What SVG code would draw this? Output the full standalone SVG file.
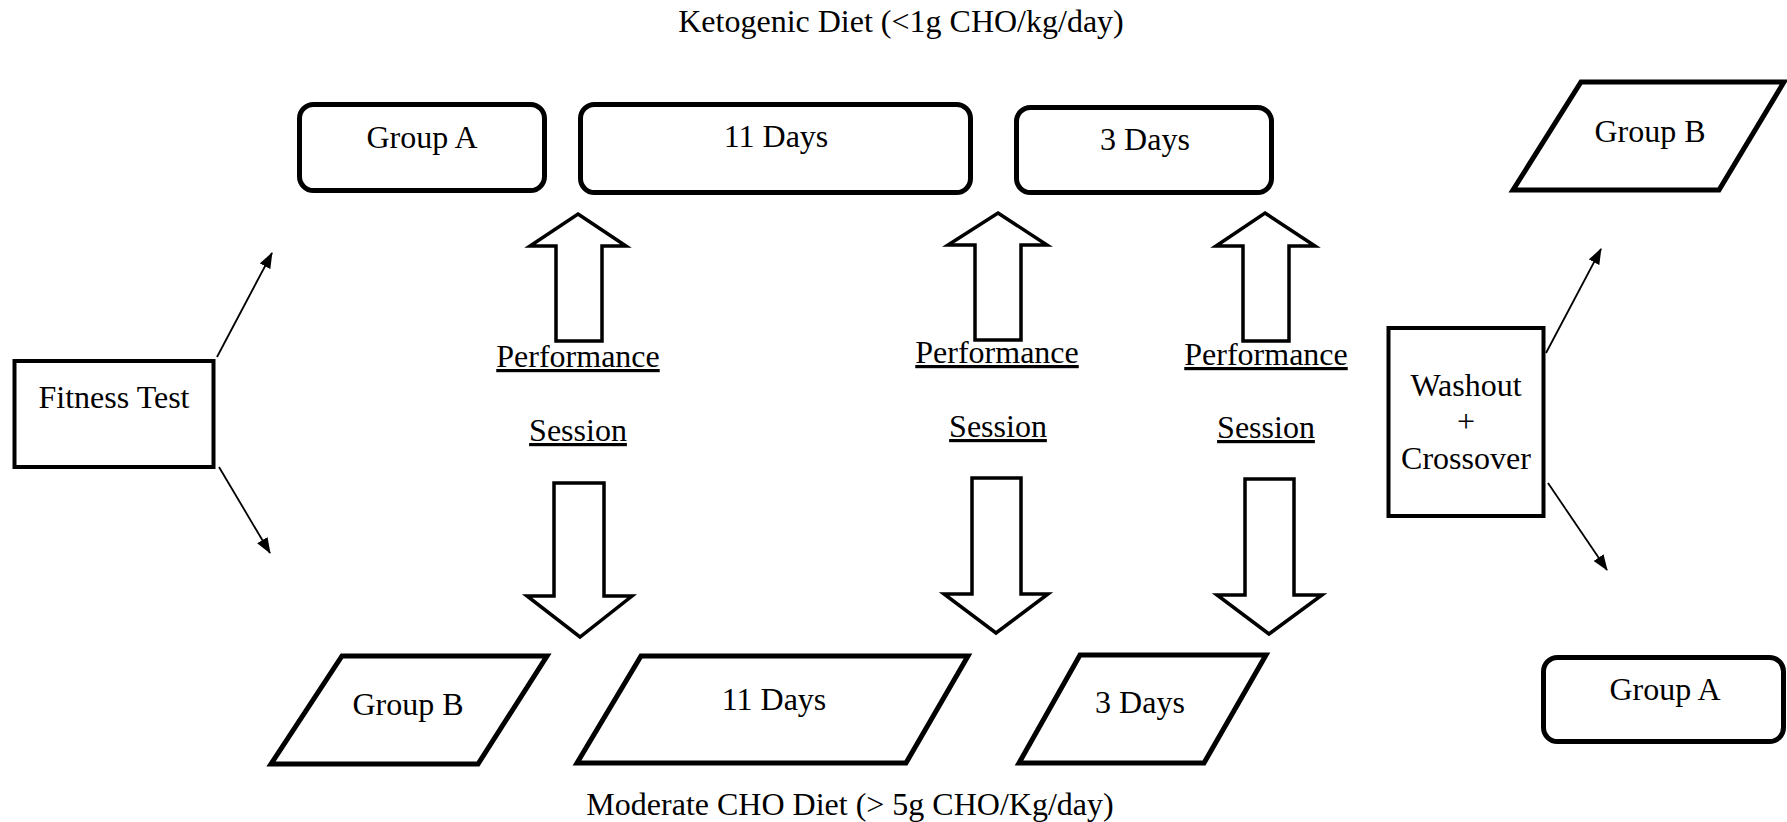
<svg xmlns="http://www.w3.org/2000/svg" width="1787" height="822" viewBox="0 0 1787 822">
  <style>
    text { font-family: "Liberation Serif", "Times New Roman", serif; font-size: 32px; fill: #000; text-anchor: middle; }
    .u { text-decoration: underline; }
    .rbox { fill: #fff; stroke: #000; stroke-width: 5; }
    .para { fill: #fff; stroke: #000; stroke-width: 5; stroke-linejoin: miter; }
    .box { fill: #fff; stroke: #000; stroke-width: 4; }
    .block { fill: #fff; stroke: #000; stroke-width: 3.5; stroke-linejoin: miter; }
    .link { stroke: #000; stroke-width: 1.8; fill: none; marker-end: url(#head); }
  </style>
  <defs>
    <marker id="head" markerUnits="userSpaceOnUse" markerWidth="16" markerHeight="12" refX="15" refY="6" orient="auto">
      <path d="M0,0 L16,6 L0,12 z" fill="#000"/>
    </marker>
  </defs>
  <rect width="1787" height="822" fill="#fff"/>

  <!-- diet headings -->
  <text id="title-keto" x="901" y="32">Ketogenic Diet (&lt;1g CHO/kg/day)</text>
  <text id="title-cho" x="850" y="815">Moderate CHO Diet (&gt; 5g CHO/Kg/day)</text>

  <!-- ketogenic arm (top row) -->
  <g id="keto-group-a">
    <rect class="rbox" x="299.5" y="104.5" width="245" height="86" rx="14"/>
    <text x="422" y="148">Group A</text>
  </g>
  <g id="keto-11-days">
    <rect class="rbox" x="580.5" y="104.5" width="390" height="88" rx="14"/>
    <text x="776" y="147">11 Days</text>
  </g>
  <g id="keto-3-days">
    <rect class="rbox" x="1016.5" y="107.5" width="255" height="85" rx="14"/>
    <text x="1145" y="150">3 Days</text>
  </g>
  <g id="keto-group-b">
    <polygon class="para" points="1581,82 1784,82 1719,190 1513,190"/>
    <text x="1650" y="142">Group B</text>
  </g>

  <!-- moderate CHO arm (bottom row) -->
  <g id="cho-group-b">
    <polygon class="para" points="342,656 547,656 478,764 271,764"/>
    <text x="408" y="715">Group B</text>
  </g>
  <g id="cho-11-days">
    <polygon class="para" points="641,656 968,656 906,763 577,763"/>
    <text x="774" y="710">11 Days</text>
  </g>
  <g id="cho-3-days">
    <polygon class="para" points="1080,655 1266,655 1204,763 1019,763"/>
    <text x="1140" y="713">3 Days</text>
  </g>
  <g id="cho-group-a">
    <rect class="rbox" x="1543.5" y="657.5" width="240" height="84" rx="14"/>
    <text x="1665" y="700">Group A</text>
  </g>

  <!-- fitness test and washout -->
  <g id="fitness-test">
    <rect class="box" x="14.5" y="361" width="199" height="106"/>
    <text x="114" y="408">Fitness Test</text>
  </g>
  <g id="washout">
    <rect class="box" x="1388.5" y="328" width="155" height="188"/>
    <text x="1466" y="396">Washout</text>
    <text x="1466" y="432">+</text>
    <text x="1466" y="469">Crossover</text>
  </g>

  <!-- performance sessions -->
  <g id="session-1">
    <polygon class="block" points="578,214 626,246 602,246 602,341 556,341 556,246 530,246"/>
    <text class="u" x="578" y="367">Performance</text>
    <text class="u" x="578" y="441">Session</text>
    <polygon class="block" points="554,483 604,483 604,596 632,596 580,637 527,596 554,596"/>
  </g>
  <g id="session-2">
    <polygon class="block" points="998,213 1047,245 1021,245 1021,340 975,340 975,245 948,245"/>
    <text class="u" x="997" y="363">Performance</text>
    <text class="u" x="998" y="437">Session</text>
    <polygon class="block" points="972,478 1021,478 1021,594 1048,594 996,633 944,594 972,594"/>
  </g>
  <g id="session-3">
    <polygon class="block" points="1265,213 1315,246 1289,246 1289,341 1243,341 1243,246 1216,246"/>
    <text class="u" x="1266" y="365">Performance</text>
    <text class="u" x="1266" y="438">Session</text>
    <polygon class="block" points="1245,479 1294,479 1294,595 1322,595 1269,634 1217,595 1245,595"/>
  </g>

  <!-- connectors -->
  <g id="connectors">
    <line class="link" x1="217" y1="357" x2="272" y2="253"/>
    <line class="link" x1="219" y1="467" x2="270" y2="553"/>
    <line class="link" x1="1546" y1="353" x2="1601" y2="249"/>
    <line class="link" x1="1548" y1="483" x2="1607" y2="570"/>
  </g>
</svg>
